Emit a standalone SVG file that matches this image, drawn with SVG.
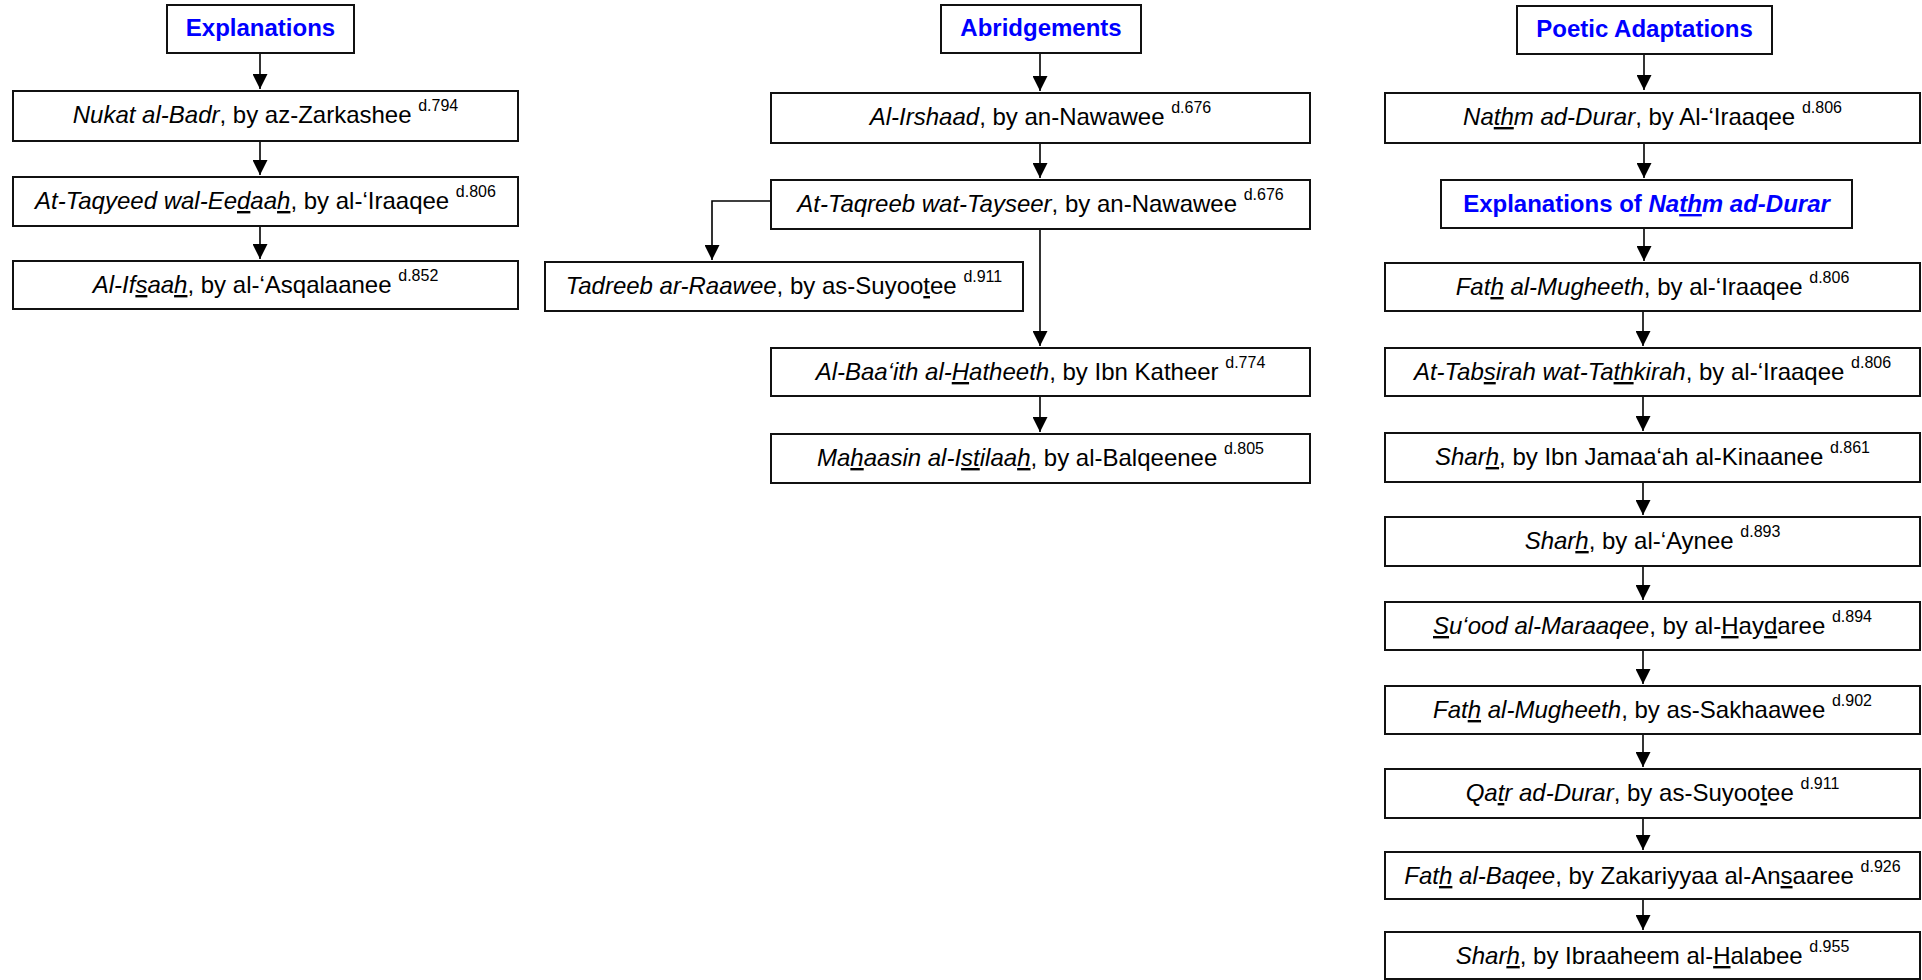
<svg xmlns="http://www.w3.org/2000/svg" width="1922" height="980" viewBox="0 0 1922 980">
<style>
text{font-family:"Liberation Sans",Arial,sans-serif;font-size:24px;fill:#000;text-anchor:middle}
.h{font-weight:bold;fill:#0000ff}
.i{font-style:italic}
.u{text-decoration:underline}
.uu{text-decoration:underline double}
.sup{font-size:16px}
rect{fill:#fff;stroke:#111;stroke-width:2}
.c path{fill:none;stroke:#000;stroke-width:1.6}
</style>
<defs>
<marker id="ah" markerUnits="userSpaceOnUse" markerWidth="15" markerHeight="15" refX="15" refY="7.5" orient="auto">
<path d="M0,0 L15,7.5 L0,15 z" fill="#000"/>
</marker>
</defs>
<rect x="0" y="0" width="1922" height="980" style="stroke:none"/>
<g class="c" id="connectors">
<path d="M260,53 V89" marker-end="url(#ah)"/>
<path d="M260,141 V175" marker-end="url(#ah)"/>
<path d="M260,226 V259" marker-end="url(#ah)"/>
<path d="M1040,53 V91" marker-end="url(#ah)"/>
<path d="M1040,143 V178" marker-end="url(#ah)"/>
<path d="M771,201 H712 V260" marker-end="url(#ah)"/>
<path d="M1040,229 V346" marker-end="url(#ah)"/>
<path d="M1040,396 V432" marker-end="url(#ah)"/>
<path d="M1644,54 V90" marker-end="url(#ah)"/>
<path d="M1644,143 V178" marker-end="url(#ah)"/>
<path d="M1644,228 V261" marker-end="url(#ah)"/>
<path d="M1643,311 V346" marker-end="url(#ah)"/>
<path d="M1643,396 V431" marker-end="url(#ah)"/>
<path d="M1643,482 V515" marker-end="url(#ah)"/>
<path d="M1643,566 V600" marker-end="url(#ah)"/>
<path d="M1643,650 V684" marker-end="url(#ah)"/>
<path d="M1643,734 V767" marker-end="url(#ah)"/>
<path d="M1643,818 V850" marker-end="url(#ah)"/>
<path d="M1643,899 V930" marker-end="url(#ah)"/>
</g>
<g id="explanations"><rect x="167" y="5" width="187" height="48"/><text class="h" x="260.5" y="36">Explanations</text></g>
<g id="nukat"><rect x="13" y="91" width="505" height="50"/><text x="265.5" y="123"><tspan class="i">Nukat al-Badr</tspan>, by az-Zarkashee <tspan class="sup" dy="-12">d.794</tspan></text></g>
<g id="taqyeed"><rect x="13" y="177" width="505" height="49"/><text x="265.5" y="209"><tspan class="i">At-Taqyeed wal-Ee<tspan class="u">d</tspan>aa<tspan class="u">h</tspan></tspan>, by al-‘Iraaqee <tspan class="sup" dy="-12">d.806</tspan></text></g>
<g id="ifsaah"><rect x="13" y="261" width="505" height="48"/><text x="265.5" y="293"><tspan class="i">Al-If<tspan class="u">s</tspan>aa<tspan class="u">h</tspan></tspan>, by al-‘Asqalaanee <tspan class="sup" dy="-12">d.852</tspan></text></g>

<g id="abridgements"><rect x="941" y="5" width="200" height="48"/><text class="h" x="1041" y="36">Abridgements</text></g>
<g id="irshaad"><rect x="771" y="93" width="539" height="50"/><text x="1040.5" y="125"><tspan class="i">Al-Irshaad</tspan>, by an-Nawawee <tspan class="sup" dy="-12">d.676</tspan></text></g>
<g id="taqreeb"><rect x="771" y="180" width="539" height="49"/><text x="1040.5" y="212"><tspan class="i">At-Taqreeb wat-Tayseer</tspan>, by an-Nawawee <tspan class="sup" dy="-12">d.676</tspan></text></g>
<g id="tadreeb"><rect x="545" y="262" width="478" height="49"/><text x="784" y="294"><tspan class="i">Tadreeb ar-Raawee</tspan>, by as-Suyoo<tspan class="u">t</tspan>ee <tspan class="sup" dy="-12">d.911</tspan></text></g>
<g id="baaith"><rect x="771" y="348" width="539" height="48"/><text x="1040.5" y="380"><tspan class="i">Al-Baa‘ith al-<tspan class="u">H</tspan>atheeth</tspan>, by Ibn Katheer <tspan class="sup" dy="-12">d.774</tspan></text></g>
<g id="mahaasin"><rect x="771" y="434" width="539" height="49"/><text x="1040.5" y="466"><tspan class="i">Ma<tspan class="u">h</tspan>aasin al-I<tspan class="u">st</tspan>ilaa<tspan class="u">h</tspan></tspan>, by al-Balqeenee <tspan class="sup" dy="-12">d.805</tspan></text></g>

<g id="poetic"><rect x="1517" y="6" width="255" height="48"/><text class="h" x="1644.5" y="37">Poetic Adaptations</text></g>
<g id="nathm"><rect x="1385" y="93" width="535" height="50"/><text x="1652.5" y="125"><tspan class="i">Na<tspan class="uu">th</tspan>m ad-Durar</tspan>, by Al-‘Iraaqee <tspan class="sup" dy="-12">d.806</tspan></text></g>
<g id="expl-nathm"><rect x="1441" y="180" width="411" height="48"/><text class="h" x="1646.5" y="212">Explanations of <tspan class="i">Na<tspan class="uu">th</tspan>m ad-Durar</tspan></text></g>
<g id="fath-iraaqee"><rect x="1385" y="263" width="535" height="48"/><text x="1652.5" y="295"><tspan class="i">Fat<tspan class="u">h</tspan> al-Mugheeth</tspan>, by al-‘Iraaqee <tspan class="sup" dy="-12">d.806</tspan></text></g>
<g id="tabsirah"><rect x="1385" y="348" width="535" height="48"/><text x="1652.5" y="380"><tspan class="i">At-Tab<tspan class="u">s</tspan>irah wat-Ta<tspan class="u">th</tspan>kirah</tspan>, by al-‘Iraaqee <tspan class="sup" dy="-12">d.806</tspan></text></g>
<g id="sharh-jamaah"><rect x="1385" y="433" width="535" height="49"/><text x="1652.5" y="465"><tspan class="i">Shar<tspan class="u">h</tspan></tspan>, by Ibn Jamaa‘ah al-Kinaanee <tspan class="sup" dy="-12">d.861</tspan></text></g>
<g id="sharh-aynee"><rect x="1385" y="517" width="535" height="49"/><text x="1652.5" y="549"><tspan class="i">Shar<tspan class="u">h</tspan></tspan>, by al-‘Aynee <tspan class="sup" dy="-12">d.893</tspan></text></g>
<g id="suood"><rect x="1385" y="602" width="535" height="48"/><text x="1652.5" y="634"><tspan class="i"><tspan class="u">S</tspan>u‘ood al-Maraaqee</tspan>, by al-<tspan class="u">H</tspan>ay<tspan class="u">d</tspan>aree <tspan class="sup" dy="-12">d.894</tspan></text></g>
<g id="fath-sakhaawee"><rect x="1385" y="686" width="535" height="48"/><text x="1652.5" y="718"><tspan class="i">Fat<tspan class="u">h</tspan> al-Mugheeth</tspan>, by as-Sakhaawee <tspan class="sup" dy="-12">d.902</tspan></text></g>
<g id="qatr"><rect x="1385" y="769" width="535" height="49"/><text x="1652.5" y="801"><tspan class="i">Qa<tspan class="u">t</tspan>r ad-Durar</tspan>, by as-Suyoo<tspan class="u">t</tspan>ee <tspan class="sup" dy="-12">d.911</tspan></text></g>
<g id="fath-baqee"><rect x="1385" y="852" width="535" height="47"/><text x="1652.5" y="884"><tspan class="i">Fat<tspan class="u">h</tspan> al-Baqee</tspan>, by Zakariyyaa al-An<tspan class="u">s</tspan>aaree <tspan class="sup" dy="-12">d.926</tspan></text></g>
<g id="sharh-halabee"><rect x="1385" y="932" width="535" height="47"/><text x="1652.5" y="964"><tspan class="i">Shar<tspan class="u">h</tspan></tspan>, by Ibraaheem al-<tspan class="u">H</tspan>alabee <tspan class="sup" dy="-12">d.955</tspan></text></g>
</svg>
